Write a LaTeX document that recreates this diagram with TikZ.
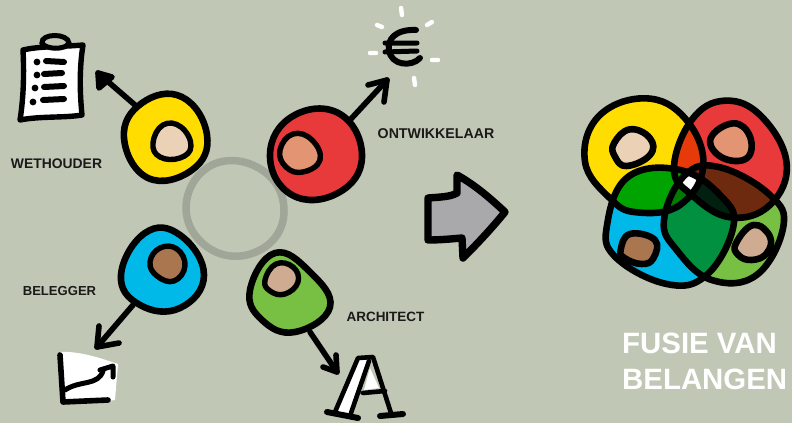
\documentclass[tikz,border=0pt]{standalone}
\usepackage{fontspec}
\setmainfont{Liberation Sans}
\definecolor{bgc}{HTML}{C1C7B5}
\definecolor{ringgrey}{HTML}{A0A698}
\definecolor{cyel}{HTML}{FFDD00}
\definecolor{cred}{HTML}{E8393B}
\definecolor{cblu}{HTML}{00B9E8}
\definecolor{cgre}{HTML}{78C043}
\definecolor{skA}{HTML}{EBD1B5}
\definecolor{skB}{HTML}{E39472}
\definecolor{skC}{HTML}{A97650}
\definecolor{skD}{HTML}{CFAB92}
\definecolor{yb}{HTML}{00A400}
\definecolor{yr}{HTML}{E73A0A}
\definecolor{rg}{HTML}{6E2A0E}
\definecolor{bg2}{HTML}{00903F}
\definecolor{rbg}{HTML}{022010}
\definecolor{ybg}{HTML}{007A00}
\definecolor{darkink}{HTML}{1A1A1A}
\definecolor{blockgrey}{HTML}{A9A9AB}
\tikzset{
 ink/.style={draw=black,line width=6.6pt,line join=round,line cap=round},
 inkthin/.style={draw=black,line width=5.4pt,line join=round,line cap=round},
 lead/.style={black,line width=5.6pt,line cap=round,line join=round},
 head/.style={black,line width=5.6pt,line cap=round,line join=round},
 rolelabel/.style={font=\bfseries\fontsize{13.9}{16}\selectfont,text=darkink,inner sep=0pt},
 title/.style={font=\bfseries\fontsize{29.4}{36}\selectfont,text=white,inner sep=0pt,align=left},
 spark/.style={draw=white,line width=4.4pt,line cap=round},
 blob/.style={smooth cycle,tension=.75},
}
\def\blobY{plot[smooth cycle,tension=.7] coordinates {(45,245)(85,110)(225,55)(345,115)(400,255)(330,375)(200,397)(120,355)}}
\def\blobR{plot[smooth cycle,tension=.7] coordinates {(312,265)(365,120)(465,62)(575,110)(650,250)(600,375)(480,412)(365,345)}}
\def\blobB{plot[smooth cycle,tension=.7] coordinates {(112,430)(175,290)(330,270)(455,350)(490,440)(410,585)(290,612)(135,530)}}
\def\blobG{plot[smooth cycle,tension=.7] coordinates {(282,420)(345,285)(450,262)(600,345)(640,440)(560,585)(425,600)(320,510)}}
\begin{document}
\begin{tikzpicture}[x=1pt,y=-1pt]
\useasboundingbox (0,0) rectangle (792,423);
\fill[bgc] (0,0) rectangle (792,423);
% grey ring
\draw[ringgrey,line width=7.5pt] plot[blob] coordinates {(186,208)(212,165)(262,170)(284,212)(260,250)(212,250)};
% Wethouder
\coordinate (wethStart) at (135,105);
\coordinate (wethTip) at (98,73);
\draw[lead] (wethStart) -- (wethTip);
\draw[head,fill=black] (99,88) -- (wethTip) -- (112,77) -- cycle;
\draw[ink,fill=cyel] plot[blob] coordinates {(124,138)(142,103)(182,97)(207,135)(192,170)(148,178)};
\draw[inkthin,fill=skA] plot[blob] coordinates {(153,143)(163,125)(181,127)(191,146)(180,158)(160,157)};
% clipboard
\draw[line width=5.4pt,line join=round,line cap=round,fill=white] (23,50) .. controls (40,46) and (60,47) .. (83,45) .. controls (79,70) and (80,95) .. (82,115) .. controls (65,118) and (40,116) .. (20,120) .. controls (24,95) and (24,70) .. (23,50) -- cycle;
\draw[line width=5pt,fill=bgc] (42,43) .. controls (41,33) and (68,33) .. (69,43) .. controls (66,50) and (46,50) .. (42,43) -- cycle;
\fill (37,62) circle (3.4pt) (37,75) circle (3.4pt) (35,88) circle (3.4pt) (33,102) circle (3.4pt);
\draw[line width=6pt,line cap=round] (46,61) -- (64,62) (44,74) -- (62,73) (44,87) -- (64,86) (43,100) -- (64,99);
% Ontwikkelaar
\coordinate (ontwStart) at (350,120);
\coordinate (ontwTip) at (387,80);
\draw[lead] (ontwStart) -- (ontwTip);
\draw[head] (368,85) -- (ontwTip) -- (384,102);
\draw[ink,fill=cred] plot[blob] coordinates {(270,155)(293,116)(340,114)(362,157)(338,193)(292,195)};
\draw[inkthin,fill=skB] plot[blob] coordinates {(280,150)(293,134)(312,140)(320,160)(303,172)(286,167)};
\draw[line width=6pt,line cap=round] (416,30) .. controls (395,29) and (387,40) .. (389,50) .. controls (391,66) and (412,67) .. (420,58);
\draw[line width=5pt,line cap=round] (385,43) -- (417,43) (385,52) -- (417,51);
\draw[spark] (401,8) -- (402,15) (377,25) -- (382,27) (427,25) -- (432,22) (370,53) -- (376,53) (432,60) -- (438,60) (414,78) -- (415,85);
% Belegger
\coordinate (belStart) at (133,305);
\coordinate (belTip) at (97,347);
\draw[lead] (belStart) -- (belTip);
\draw[head] (99,326) -- (belTip) -- (119,343);
\draw[ink,fill=cblu] plot[blob] coordinates {(121,275)(145,233)(180,235)(204,275)(180,308)(140,305)};
\draw[inkthin,fill=skC] plot[blob] coordinates {(150,262)(160,248)(177,249)(185,266)(174,281)(157,276)};
\fill[white] (60,352) .. controls (80,351) and (100,358) .. (118,364) -- (115,400) .. controls (95,403) and (80,403) .. (63,403) -- cycle;
\draw[line width=5.6pt,line cap=round,line join=round] (60,355) -- (63,402) -- (108,400);
\draw[line width=5pt,line cap=round,line join=round] (65,390) .. controls (80,380) and (98,386) .. (103,371);
\draw[line width=5pt,line cap=round,line join=round] (100,370) -- (113,366) -- (113,377);
% Architect
\coordinate (archStart) at (310,332);
\coordinate (archTip) at (337,372);
\draw[lead] (archStart) -- (archTip);
\draw[head] (323,367) -- (archTip) -- (336,355);
\draw[ink,fill=cgre] plot[blob] coordinates {(250,290)(275,253)(310,272)(330,307)(295,332)(262,320)};
\draw[inkthin,fill=skD] plot[blob] coordinates {(265,280)(276,264)(293,267)(298,282)(285,294)(270,291)};
\fill[white] (358,358) -- (368,360) -- (350,414) -- (336,412) -- cycle;
\fill[white] (370,368) -- (379,388) -- (364,390) -- cycle;
\draw[line width=4.6pt,line join=round,line cap=round] (335,412) -- (358,358) -- (373,357) -- (391,413);
\draw[line width=4.6pt,line cap=round] (369,361) -- (351,413) (363,393) -- (385,391);
\draw[line width=6pt,line cap=round] (327,412) -- (358,418) (380,416) -- (403,414);
% block arrow
\draw[line width=7.4pt,line join=round,fill=blockgrey] (428,198) .. controls (440,197) and (450,197) .. (457,193) -- (457,175) .. controls (475,185) and (490,198) .. (505,212) .. controls (492,228) and (478,243) .. (463,258) -- (462,238) .. controls (450,239) and (440,240) .. (428,240) -- cycle;
% Venn
\begin{scope}[shift={(570,80)},x=.3333pt,y=-.3333pt]
\fill[cyel] \blobY;
\fill[cred] \blobR;
\fill[cblu] \blobB;
\fill[cgre] \blobG;
\begin{scope}\clip \blobY; \fill[yr] \blobR; \fill[yb] \blobB; \end{scope}
\begin{scope}\clip \blobR; \fill[rg] \blobG; \end{scope}
\begin{scope}\clip \blobB; \fill[bg2] \blobG; \end{scope}
\begin{scope}\clip \blobB; \clip \blobG; \fill[rbg] \blobR; \fill[ybg] \blobY; \clip \blobR; \fill[white] \blobY; \end{scope}
\draw[ink] \blobY;
\draw[ink] \blobR;
\draw[ink] \blobB;
\draw[ink] \blobG;
\draw[ink,fill=skA] plot[blob] coordinates {(132,190)(180,148)(240,175)(240,225)(170,258)(135,230)};
\draw[ink,fill=skB] plot[blob] coordinates {(422,175)(490,130)(540,170)(530,235)(455,232)};
\draw[ink,fill=skC] plot[blob] coordinates {(152,510)(180,462)(255,480)(250,535)(215,552)(165,535)};
\draw[ink,fill=skD] plot[blob] coordinates {(498,490)(550,435)(600,470)(590,520)(545,540)(505,525)};
\end{scope}
% labels
\node[rolelabel] (lWeth) at (56.5,164) {WETHOUDER};
\node[rolelabel,scale=1.02] (lOntw) at (436,134) {ONTWIKKELAAR};
\node[rolelabel,scale=.94] (lBel) at (59.5,291) {BELEGGER};
\node[rolelabel,scale=.97] (lArch) at (385.5,317) {ARCHITECT};
\node[title,anchor=north west] (lTitle) at (622,333) {FUSIE VAN\\BELANGEN};
\end{tikzpicture}
\end{document}
